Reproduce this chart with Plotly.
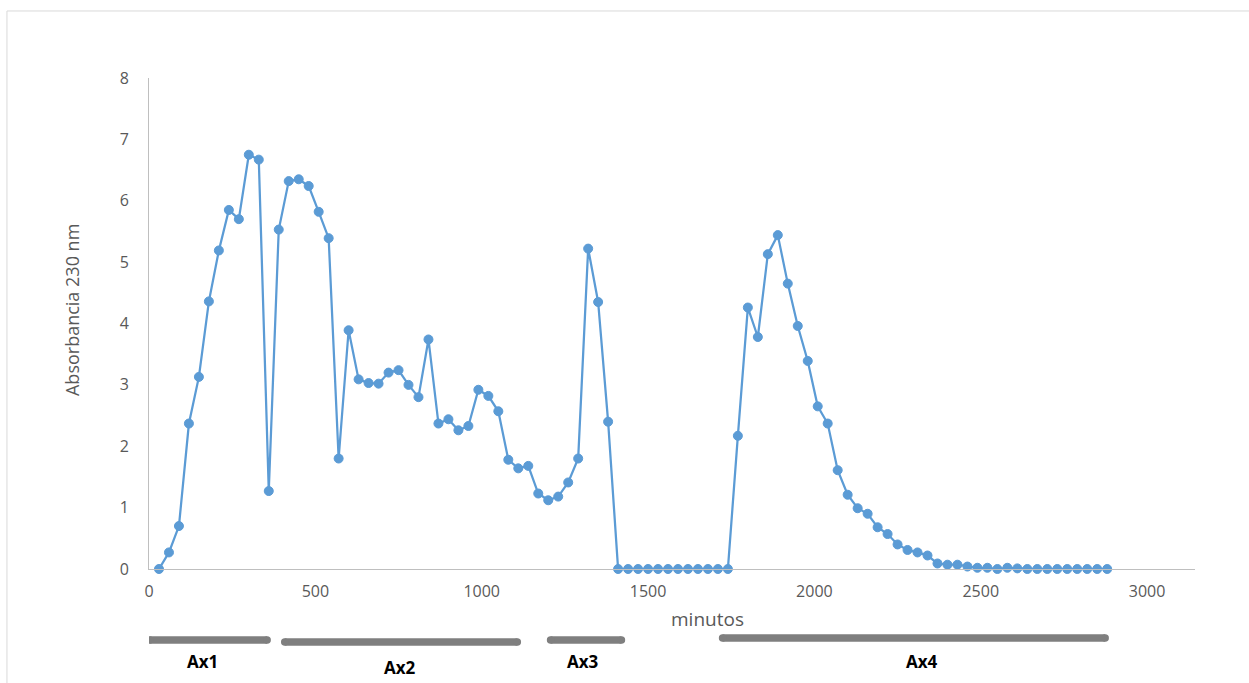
import plotly.graph_objects as go

# Sampling times (minutes) of the collected fractions
minutos = [
    30, 60, 90, 120, 150, 180, 210, 240, 270, 300,
    330, 360, 390, 420, 450, 480, 510, 540, 570, 600,
    630, 660, 690, 720, 750, 780, 810, 840, 870, 900,
    930, 960, 990, 1020, 1050, 1080, 1110, 1140, 1170, 1200,
    1230, 1260, 1290, 1320, 1350, 1380, 1410, 1440, 1470, 1500,
    1530, 1560, 1590, 1620, 1650, 1680, 1710, 1740, 1770, 1800,
    1830, 1860, 1890, 1920, 1950, 1980, 2010, 2040, 2070, 2100,
    2130, 2160, 2190, 2220, 2250, 2280, 2310, 2340, 2370, 2400,
    2430, 2460, 2490, 2520, 2550, 2580, 2610, 2640, 2670, 2700,
    2730, 2760, 2790, 2820, 2850, 2880,
]

# Absorbance at 230 nm of each fraction
absorbancia = [
    0.00, 0.27, 0.70, 2.37, 3.13, 4.36, 5.19, 5.85, 5.70, 6.75,
    6.67, 1.27, 5.53, 6.32, 6.35, 6.24, 5.82, 5.39, 1.80, 3.89,
    3.09, 3.03, 3.02, 3.20, 3.24, 3.00, 2.80, 3.74, 2.37, 2.44,
    2.26, 2.33, 2.92, 2.82, 2.57, 1.78, 1.64, 1.68, 1.23, 1.12,
    1.18, 1.41, 1.80, 5.22, 4.35, 2.40, 0.00, 0.00, 0.00, 0.00,
    0.00, 0.00, 0.00, 0.00, 0.00, 0.00, 0.00, 0.00, 2.17, 4.26,
    3.78, 5.13, 5.44, 4.65, 3.96, 3.39, 2.65, 2.37, 1.61, 1.21,
    0.99, 0.90, 0.68, 0.57, 0.40, 0.31, 0.27, 0.22, 0.09, 0.07,
    0.07, 0.04, 0.02, 0.02, 0.00, 0.02, 0.01, 0.00, 0.00, 0.00,
    0.00, 0.00, 0.00, 0.00, 0.00, 0.00,
]

# Pooled fractions: name, start and end (minutes), label centre (minutes)
pool_nombres = ["Ax1", "Ax2", "Ax3", "Ax4"]
pool_inicio = [2, 408, 1207, 1724]
pool_fin = [355, 1107, 1420, 2874]
pool_centro = [162, 754, 1304, 2323]

AZUL = "#5B9BD5"
GRIS_EJE = "#BFBFBF"
GRIS_TEXTO = "#595959"
GRIS_BARRA = "#7F7F7F"
FUENTE = "Open Sans, Noto Sans, sans-serif"

fig = go.Figure()
fig.add_trace(go.Scatter(
    x=minutos, y=absorbancia, mode="lines+markers",
    line=dict(color=AZUL, width=2.25),
    marker=dict(color=AZUL, size=9, line=dict(color=AZUL, width=1)),
    cliponaxis=False, showlegend=False,
))

# Vertical placement of the pool bars and their labels (paper units)
bar_y = [-0.1446, -0.1487, -0.1446, -0.1405]
label_y = [-0.1894, -0.2016, -0.1894, -0.1894]

shapes = []
annotations = []
for nombre, x0, x1, xc, by, ly in zip(pool_nombres, pool_inicio, pool_fin,
                                      pool_centro, bar_y, label_y):
    shapes.append(dict(type="line", xref="x", yref="paper", x0=x0, x1=x1,
                       y0=by, y1=by, line=dict(color=GRIS_BARRA, width=7.5)))
    # rounded bar ends
    for xe in (x0, x1):
        shapes.append(dict(type="circle", xref="x", yref="paper",
                           xsizemode="pixel", ysizemode="pixel",
                           xanchor=xe, yanchor=by,
                           x0=-3.75, x1=3.75, y0=-3.75, y1=3.75,
                           fillcolor=GRIS_BARRA, line=dict(width=0)))
    annotations.append(dict(text="<b>" + nombre + "</b>", xref="x", yref="paper",
                            x=xc, y=ly, showarrow=False,
                            xanchor="center", yanchor="middle",
                            font=dict(family=FUENTE, size=17, color="#000000")))

# Chart frame
shapes.append(dict(type="line", xref="paper", yref="paper",
                   x0=-0.1358, x1=1.06, y0=1.1365, y1=1.1365,
                   line=dict(color="#D9D9D9", width=1)))
shapes.append(dict(type="line", xref="paper", yref="paper",
                   x0=-0.1358, x1=-0.1358, y0=1.1365, y1=-0.25,
                   line=dict(color="#D9D9D9", width=1)))

annotations.append(dict(text="minutos", xref="paper", yref="paper",
                        x=0.5344, y=-0.1018, showarrow=False,
                        xanchor="center", yanchor="middle",
                        font=dict(family=FUENTE, size=19, color=GRIS_TEXTO)))
annotations.append(dict(text="Absorbancia 230 nm", xref="paper", yref="paper",
                        x=-0.0736, y=0.5275, showarrow=False, textangle=-90,
                        xanchor="center", yanchor="middle",
                        font=dict(family=FUENTE, size=18, color=GRIS_TEXTO)))

fig.update_layout(
    width=1249, height=683,
    margin=dict(l=149, r=54, t=78, b=114),
    paper_bgcolor="white", plot_bgcolor="white",
    font=dict(family=FUENTE, size=16, color=GRIS_TEXTO),
    shapes=shapes, annotations=annotations,
    xaxis=dict(range=[0, 3144], tickvals=[0, 500, 1000, 1500, 2000, 2500, 3000],
               showgrid=False, zeroline=False, showline=True,
               linecolor=GRIS_EJE, linewidth=1, ticks="",
               ticklabelstandoff=8,
               tickfont=dict(family=FUENTE, size=16, color=GRIS_TEXTO)),
    yaxis=dict(range=[0, 8], tickvals=[0, 1, 2, 3, 4, 5, 6, 7, 8],
               showgrid=False, zeroline=False, showline=True,
               linecolor=GRIS_EJE, linewidth=1, ticks="",
               ticklabelstandoff=16,
               tickfont=dict(family=FUENTE, size=16, color=GRIS_TEXTO)),
)

fig.write_html("out.html")
